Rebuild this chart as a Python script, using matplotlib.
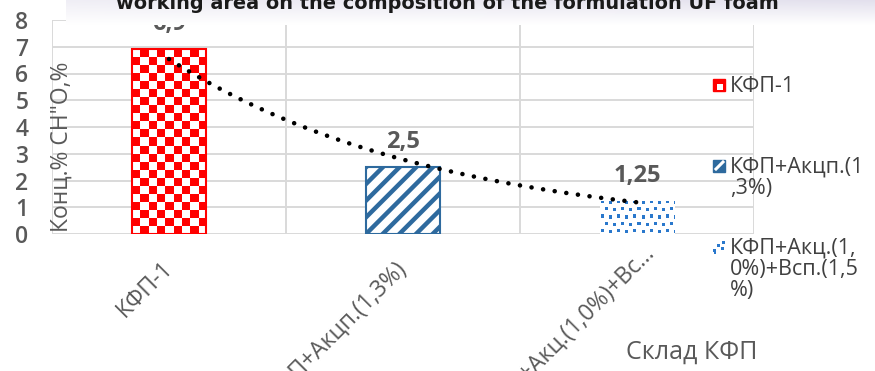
import numpy as np
import matplotlib
matplotlib.use("Agg")
import matplotlib.pyplot as plt
from matplotlib.colors import ListedColormap
from matplotlib.patches import Rectangle
from matplotlib.lines import Line2D
from matplotlib.transforms import ScaledTranslation

plt.rcParams['font.family'] = ['Open Sans', 'DejaVu Sans']

# ---------------- data ----------------
categories = ["КФП-1", "КФП+Акцп.(1,3%)", "КФП+Акц.(1,0%)+Всп.(1,5%)"]
tick_labels = ["КФП-1", "КФП+Акцп.(1,3%)", "КФП+Акц.(1,0%)+Вс..."]
legend_labels = ["КФП-1", "КФП+Акцп.(1\n,3%)", "КФП+Акц.(1,\n0%)+Всп.(1,5\n%)"]
values = [6.9, 2.5, 1.25]
value_labels = ["6,9", "2,5", "1,25"]
y_ticks = [0, 1, 2, 3, 4, 5, 6, 7, 8]
title = "working area on the composition of the formulation UF foam"
y_label = 'Конц.% СН"О,%'
x_label = "Склад КФП"

# ---------------- style ----------------
GRID = "#d9d9d9"
TXT = "#595959"
RED = "#ff0000"
BLUE2 = "#2e6a9e"
BLUE3 = "#2a78cc"

W, H = 875, 371
fig = plt.figure(figsize=(W / 100, H / 100), dpi=100)
L, R, T, B = 52, 754, 20, 234
ax = fig.add_axes([L / W, 1 - B / H, (R - L) / W, (B - T) / H])

x = np.arange(len(values))
for s in ax.spines.values():
    s.set_visible(False)
ax.set_yticks(y_ticks)
ax.set_yticklabels([str(v) for v in y_ticks], fontsize=16.5, color=TXT, fontweight='semibold')
ax.tick_params(axis='y', length=0, pad=17)
ax.set_xticks(x)
ax.set_xticklabels(tick_labels, rotation=45, ha='right', va='center', rotation_mode='anchor',
                   fontsize=16.5, color=TXT)
ax.tick_params(axis='x', which='major', length=0, pad=22)
ax.set_xticks(np.arange(-0.5, len(values)), minor=True)
ax.tick_params(axis='x', which='minor', length=0)
ax.grid(True, axis='y', which='major', color=GRID, lw=1.4)
ax.grid(True, axis='x', which='minor', color=GRID, lw=1.4)
ax.set_axisbelow(True)
# the truncated third label sits a little further along its direction
lab3 = ax.get_xticklabels()[2]
lab3.set_transform(lab3.get_transform() + ScaledTranslation(0.14, 0.16, fig.dpi_scale_trans))

bw = 0.318
px_x = (R - L) / len(values)
px_y = (B - T) / 8

# bar 1: checkerboard
bars1 = ax.bar(x[0], values[0], width=bw, facecolor='none', edgecolor=RED, lw=1.5, zorder=3)
cell = 8.0
ncol = int(round(bw * px_x / cell))
nrow = int(round(values[0] * px_y / cell))
ii, jj = np.indices((nrow, ncol))
checker = ((ii + jj) % 2).astype(float)
img = ax.imshow(checker, cmap=ListedColormap(['#ffffff', RED]),
                extent=(x[0] - bw / 2, x[0] + bw / 2, 0, values[0]),
                interpolation='nearest', aspect='auto', zorder=2, origin='upper')
img.set_clip_path(bars1.patches[0])

# bar 2: diagonal hatch
with plt.rc_context({'hatch.linewidth': 3.2}):
    bars2 = ax.bar(x[1], values[1], width=bw, facecolor='white', edgecolor=BLUE2, lw=1.5,
                   hatch='//', zorder=3)

# bar 3: confetti texture (fixed repeating tile of small squares)
bars3 = ax.bar(x[2], values[2], width=bw, facecolor='white', edgecolor='none', lw=0, zorder=2)
tile = np.zeros((14, 16))
for (ty, tx) in [(0, 1), (1, 9), (7, 5), (8, 13)]:
    tile[ty:ty + 3, tx:tx + 3] = 1
pw = int(round(bw * px_x))
ph = int(round(values[2] * px_y))
tex = np.tile(tile, (ph // 14 + 2, pw // 16 + 2))[:ph, :pw]
img3 = ax.imshow(tex, cmap=ListedColormap(['#ffffff', BLUE3]),
                 extent=(x[2] - bw / 2, x[2] + bw / 2, 0, values[2]),
                 interpolation='nearest', aspect='auto', zorder=3, origin='upper')
img3.set_clip_path(bars3.patches[0])

ax.set_xlim(-0.5, len(values) - 0.5)
ax.set_ylim(0, 8)

# exponential trendline fitted to the data
b, lna = np.polyfit(x, np.log(values), 1)
xt = np.linspace(x[0], x[-1], 300)
ax.plot(xt, np.exp(lna + b * xt), color='black', lw=3.3, linestyle=(0, (0.01, 2.55)),
        dash_capstyle='round', zorder=5)

# data labels
for xi, v, lab in zip(x, values, value_labels):
    ax.annotate(lab, (xi, v), xytext=(0, 18), textcoords='offset points', ha='center', va='center',
                fontsize=17, fontweight='bold', color=TXT, zorder=6, annotation_clip=False)

# axis titles
fig.text(62 / W, 1 - 147 / H, y_label, rotation=90, ha='center', va='center', fontsize=16.5, color=TXT)
fig.text(692 / W, 1 - 352 / H, x_label, ha='center', va='center', fontsize=18, color=TXT)

# legend (manual)
leg_y = [85, 166, 247]
for yy, lab in zip(leg_y, legend_labels):
    fig.text(730 / W, 1 - (yy - 9) / H, lab, ha='left', va='top', fontsize=15.5, color='#404040',
             linespacing=1.0)


def fx(px):
    return px / W


def fy(py):
    return 1 - py / H


ftr = fig.transFigure
# entry 1: red checker swatch
fig.add_artist(Rectangle((fx(713), fy(91)), 12 / W, 12 / H, transform=ftr,
                         facecolor=RED, edgecolor=RED, lw=1, zorder=10))
fig.add_artist(Rectangle((fx(716.5), fy(89.5)), 6 / W, 6 / H, transform=ftr,
                         facecolor='white', edgecolor='none', zorder=11))
# entry 2: blue swatch with white diagonal
fig.add_artist(Rectangle((fx(713), fy(172)), 12 / W, 12 / H, transform=ftr,
                         facecolor=BLUE2, edgecolor=BLUE2, lw=1, zorder=10))
fig.add_artist(Line2D([fx(716), fx(723)], [fy(169), fy(162)], transform=ftr, color='white',
                      lw=2.2, zorder=11))
# entry 3: a few confetti dots
for (dx, dy, s) in [(713, 249, 3), (717, 244, 3), (721, 247, 3), (722, 241, 3), (714, 252, 2)]:
    fig.add_artist(Rectangle((fx(dx), fy(dy + s)), s / W, s / H, transform=ftr,
                             facecolor=BLUE3, edgecolor='none', zorder=10))

# title banner
bax = fig.add_axes([66 / W, 1 - 25 / H, 1 - 66 / W, 25 / H])
gy = np.linspace(1, 0, 30)[:, None]
gx = np.linspace(0, 1, 200)[None, :]
t = gy * (0.55 + 0.45 * gx)
top = np.array([0.89, 0.88, 0.93])
grad = 1 - t[..., None] * (1 - top)
bax.imshow(grad, aspect='auto', extent=(0, 1, 0, 1))
bax.axis('off')
fig.text(447 / W, 1 - 9 / H, title, ha='center', va='baseline', fontsize=13.9, fontweight='bold',
         color='#1a1a1a', family=['DejaVu Sans'])

fig.savefig("out.png", dpi=100)
